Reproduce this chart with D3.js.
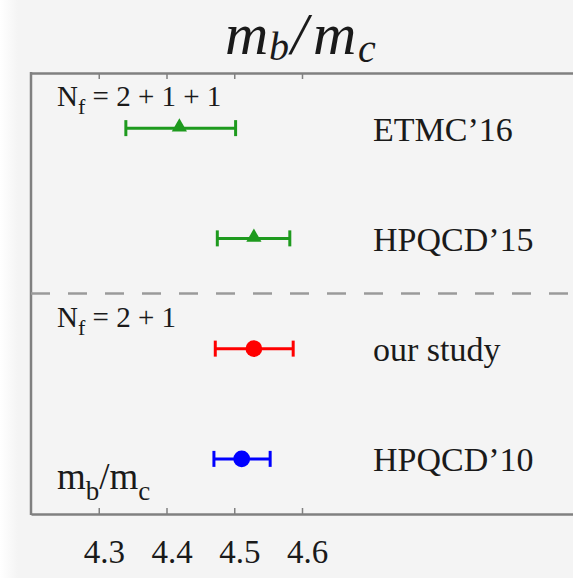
<!DOCTYPE html>
<html>
<head>
<meta charset="utf-8">
<script src="https://cdn.jsdelivr.net/npm/d3@7"></script>
<style>
  html, body { margin: 0; padding: 0; background: #f4f4f4; }
  svg { display: block; }
  text { font-family: "Liberation Serif", "Times New Roman", serif; fill: #1a1a1a; }
</style>
</head>
<body>
<div id="chart"></div>
<script>
// values
const labels = ["ETMC’16", "HPQCD’15", "our study", "HPQCD’10"];
const centers = [4.419, 4.529, 4.529, 4.511];
const lows = [4.340, 4.475, 4.472, 4.470];
const highs = [4.502, 4.582, 4.587, 4.553];
const colors = ["#1e9a1e", "#1e9a1e", "#ff0000", "#0000ff"];
const shapes = ["triangle", "triangle", "circle", "circle"];
const tickValues = [4.3, 4.4, 4.5, 4.6];

const width = 573;
const height = 578;
const plot = {left: 31, right: 573, top: 73, bottom: 514};

const x = d3.scaleLinear().domain([4.2, 5.0]).range([plot.left, plot.right]);
const y = d3.scaleBand().domain(labels).range([plot.top, plot.bottom]);
const yc = d => y(d) + y.bandwidth() / 2;

const svg = d3.select("#chart")
  .append("svg")
  .attr("width", width)
  .attr("height", height);

// soft white fade on the left edge
const grad = svg.append("defs").append("linearGradient").attr("id", "fade");
grad.append("stop").attr("offset", "0%").attr("stop-color", "#ffffff");
grad.append("stop").attr("offset", "100%").attr("stop-color", "#f4f4f4");
svg.append("rect").attr("width", width).attr("height", height).attr("fill", "#f4f4f4");
svg.append("rect").attr("width", 18).attr("height", height).attr("fill", "url(#fade)");

// title, laid out piece by piece like the TeX original
const title = svg.append("text")
  .attr("y", 54)
  .attr("font-style", "italic")
  .attr("font-size", 60);
title.append("tspan").attr("x", 225).text("m");
title.append("tspan").attr("x", 269).attr("font-size", 40).attr("dy", 6).text("b");
title.append("tspan").attr("x", 291).attr("dy", -6).text("/");
title.append("tspan").attr("x", 313).text("m");
title.append("tspan").attr("x", 358).attr("font-size", 40).attr("dy", 8).text("c");

// axes
const axisTopG = svg.append("g")
  .attr("transform", `translate(0,${plot.top})`)
  .call(d3.axisTop(x).tickValues(tickValues).tickSizeInner(-6).tickSizeOuter(0).tickFormat(""));
const axisBottomG = svg.append("g")
  .attr("transform", `translate(0,${plot.bottom})`)
  .call(d3.axisBottom(x).tickValues(tickValues).tickSizeInner(-6).tickSizeOuter(0)
    .tickPadding(26).tickFormat(d3.format(".1f")));
[axisTopG, axisBottomG].forEach(g => {
  g.select(".domain").attr("stroke", "#808080").attr("stroke-width", 2.5);
  g.selectAll(".tick line").attr("stroke", "#808080").attr("stroke-width", 1.5);
});
axisBottomG.selectAll(".tick text")
  .attr("font-family", "Liberation Serif")
  .attr("font-size", 33)
  .attr("fill", "#1a1a1a")
  .attr("dx", 5);

svg.append("line")
  .attr("x1", plot.left).attr("x2", plot.left)
  .attr("y1", plot.top - 1).attr("y2", plot.bottom + 1)
  .attr("stroke", "#808080").attr("stroke-width", 2.5);

// separator between Nf = 2+1+1 and Nf = 2+1
svg.append("line")
  .attr("x1", plot.left).attr("x2", plot.right)
  .attr("y1", y(labels[2])).attr("y2", y(labels[2]))
  .attr("stroke", "#9a9a9a").attr("stroke-width", 2.5)
  .attr("stroke-dasharray", "19,18");

// error bars
const rows = svg.selectAll(".row")
  .data(labels)
  .enter()
  .append("g")
  .attr("class", "row");

rows.append("line")
  .attr("x1", (d, i) => x(lows[i])).attr("x2", (d, i) => x(highs[i]))
  .attr("y1", yc).attr("y2", yc)
  .attr("stroke", (d, i) => colors[i]).attr("stroke-width", 3);
rows.append("line")
  .attr("x1", (d, i) => x(lows[i])).attr("x2", (d, i) => x(lows[i]))
  .attr("y1", d => yc(d) - 8).attr("y2", d => yc(d) + 8)
  .attr("stroke", (d, i) => colors[i]).attr("stroke-width", 3);
rows.append("line")
  .attr("x1", (d, i) => x(highs[i])).attr("x2", (d, i) => x(highs[i]))
  .attr("y1", d => yc(d) - 8).attr("y2", d => yc(d) + 8)
  .attr("stroke", (d, i) => colors[i]).attr("stroke-width", 3);
rows.append("path")
  .attr("d", (d, i) => shapes[i] === "triangle"
    ? d3.symbol(d3.symbolTriangle, 100)()
    : d3.symbol(d3.symbolCircle, 220)())
  .attr("transform", (d, i) => `translate(${x(centers[i])},${yc(d) - (shapes[i] === "triangle" ? 1 : 0)})`)
  .attr("fill", (d, i) => colors[i]);

rows.append("text")
  .attr("x", 373)
  .attr("y", d => yc(d) + 12.5)
  .attr("font-size", 34)
  .text(d => d);

// annotations
function nf(yPos, rest) {
  const t = svg.append("text").attr("x", 57).attr("y", yPos).attr("font-size", 29);
  t.append("tspan").text("N");
  t.append("tspan").attr("font-size", 22).attr("dy", 8).text("f");
  t.append("tspan").attr("dy", -8).text(rest);
}
nf(106, " = 2 + 1 + 1");
nf(327, " = 2 + 1");

const ml = svg.append("text").attr("x", 57).attr("y", 489).attr("font-size", 37);
ml.append("tspan").text("m");
ml.append("tspan").attr("font-size", 27).attr("dy", 11).text("b");
ml.append("tspan").attr("dy", -11).text("/m");
ml.append("tspan").attr("font-size", 27).attr("dy", 11).text("c");
</script>
</body>
</html>
